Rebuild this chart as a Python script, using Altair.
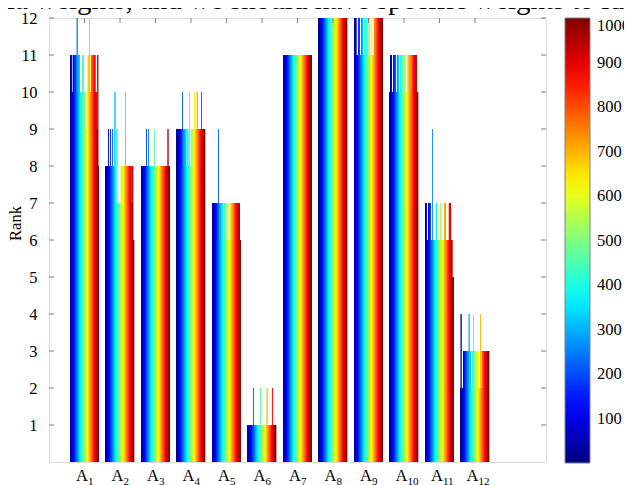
import altair as alt
import numpy as np
import pandas as pd

# ---------------- data ----------------
groups = ["A1", "A2", "A3", "A4", "A5", "A6", "A7", "A8", "A9", "A10", "A11", "A12"]
group_pos = list(range(1, 13))
sub_labels = ["1", "2", "3", "4", "5", "6", "7", "8", "9", "10", "11", "12"]
n_runs = 1000

# (first run, last run exclusive, rank) ; later entries override earlier ones
A1_segments = [(0, 1000, 10), (560, 600, 9), (760, 780, 9), (920, 950, 9),
               (10, 40, 11), (100, 240, 11), (300, 330, 11), (430, 470, 11),
               (620, 700, 11), (740, 800, 11), (830, 880, 11), (960, 990, 11),
               (240, 248, 12), (684, 692, 12),
               (935, 1000, 8), (950, 958, 9), (975, 983, 11)]
A2_segments = [(0, 1000, 7), (0, 300, 8), (540, 900, 8),
               (90, 100, 9), (170, 180, 9), (230, 240, 9), (395, 405, 9),
               (325, 335, 10), (700, 710, 10), (940, 1000, 6), (955, 965, 8)]
A3_segments = [(0, 1000, 8), (180, 188, 9), (250, 258, 9), (462, 470, 9), (942, 950, 9)]
A4_segments = [(0, 1000, 8), (0, 170, 9), (200, 230, 9), (280, 320, 9), (360, 380, 9),
               (430, 470, 9), (520, 560, 9), (600, 1000, 9),
               (197, 205, 10), (455, 463, 10), (631, 639, 10), (716, 724, 10), (867, 875, 10)]
A5_segments = [(0, 1000, 6), (0, 150, 7), (190, 230, 7), (270, 300, 7), (340, 380, 7),
               (430, 470, 7), (520, 560, 7), (600, 640, 7), (680, 720, 7), (760, 960, 7),
               (214, 222, 9)]
A6_segments = [(0, 1000, 1), (207, 215, 2), (454, 462, 2), (679, 687, 2), (866, 874, 2)]
A7_segments = [(0, 1000, 11)]
A8_segments = [(0, 1000, 12)]
A9_segments = [(0, 1000, 11), (0, 70, 12), (150, 200, 12), (250, 300, 12), (350, 380, 12),
               (430, 460, 12), (520, 540, 12), (600, 630, 12), (700, 1000, 12), (780, 800, 11)]
A10_segments = [(0, 1000, 10), (20, 80, 11), (130, 220, 11), (260, 330, 11), (380, 440, 11),
                (500, 560, 11), (620, 740, 11), (780, 940, 11)]
A11_segments = [(0, 1000, 6), (0, 40, 7), (120, 180, 7), (380, 420, 7), (530, 545, 7),
                (680, 720, 7), (840, 900, 7), (250, 257, 9), (950, 1000, 5)]
A12_segments = [(0, 1000, 2), (100, 230, 3), (260, 340, 3), (400, 480, 3), (560, 620, 3),
                (750, 1000, 3), (10, 18, 4), (292, 300, 4), (454, 462, 4), (690, 698, 4)]

all_segments = [A1_segments, A2_segments, A3_segments, A4_segments, A5_segments, A6_segments,
                A7_segments, A8_segments, A9_segments, A10_segments, A11_segments, A12_segments]

x_slots = list(range(1, 14))  # axis runs 0..14 with groups at 1..12
rank_ticks = list(range(1, 13))
colorbar_values = [100, 200, 300, 400, 500, 600, 700, 800, 900, 1000]
jet_domain = [1, 126, 376, 625, 875, 1000]
jet_colors = ["#00007f", "#0000ff", "#00ffff", "#ffff00", "#ff0000", "#7f0000"]
top_text = "ia weights, and we should have specific weights to ide"

# ---------------- tables ----------------
rows = []
for g, pos, segs in zip(groups, group_pos, all_segments):
    ranks = np.zeros(n_runs)
    for s, e, r in segs:
        ranks[s:e] = r
    for i in range(n_runs):
        rows.append((g, pos, i + 1, ranks[i]))
bars_df = pd.DataFrame(rows, columns=["group", "pos", "run", "rank"])
labels_df = pd.DataFrame({"pos": group_pos, "main": ["A"] * 12, "sub": sub_labels})
yticks_df = pd.DataFrame({"rank": rank_ticks})

W, H = 497, 444
FONT = "Liberation Serif"

# label / tick scale: groups centred at 1..12 on a 0..14 axis
xscale = alt.Scale(domain=x_slots, paddingInner=0.2, paddingOuter=0.6, align=0.5)
# bar scale: same step; alignment compensates Vega-Lite's centring of the thin
# (relative-width) bars so that run 1 sits at the left edge of its group
bar_xscale = alt.Scale(domain=x_slots, paddingInner=0.2, paddingOuter=0.6, align=0.1669)

bars = alt.Chart(bars_df).mark_bar(width=alt.RelativeBandSize(band=0.02)).encode(
    x=alt.X("pos:O", scale=bar_xscale, axis=None),
    xOffset=alt.XOffset("run:O", scale=alt.Scale(paddingInner=0, paddingOuter=0)),
    y=alt.Y("rank:Q", scale=alt.Scale(domain=[0, 12], nice=False),
            axis=alt.Axis(values=rank_ticks, grid=False, domain=False, ticks=False,
                          labelPadding=12, labelFont=FONT, labelFontSize=16.5,
                          labelColor="black", title="Rank", titleFont=FONT,
                          titleFontSize=16.5, titleFontWeight="normal", titleColor="black",
                          titleAngle=270, titleX=-34, titleY=205, titleAlign="center",
                          titleBaseline="middle")),
    color=alt.Color("run:Q",
                    scale=alt.Scale(domain=jet_domain, range=jet_colors, interpolate="rgb"),
                    legend=alt.Legend(orient="none", legendX=516, legendY=0,
                                      direction="vertical", title=None, format="d",
                                      gradientLength=H + 1, gradientThickness=25,
                                      values=colorbar_values, labelFont=FONT,
                                      labelFontSize=16.5, labelColor="black",
                                      labelOffset=7, labelOverlap=False,
                                      labelBaseline="middle",
                                      gradientStrokeColor="#808080",
                                      gradientStrokeWidth=1)),
)

left_ticks = alt.Chart(yticks_df).mark_rule(color="#808080").encode(
    y="rank:Q", x=alt.value(0), x2=alt.value(5))
right_ticks = alt.Chart(yticks_df).mark_rule(color="#808080").encode(
    y="rank:Q", x=alt.value(W - 5), x2=alt.value(W))
top_ticks = alt.Chart(labels_df).mark_rule(color="#808080").encode(
    x=alt.X("pos:O", scale=xscale, axis=None), y=alt.value(0), y2=alt.value(5))

lab_main = alt.Chart(labels_df).mark_text(font=FONT, fontSize=16.5, align="center",
                                          baseline="alphabetic", dx=-2.5, color="black").encode(
    x=alt.X("pos:O", scale=xscale, axis=None), y=alt.value(H + 19), text="main:N")
lab_sub = alt.Chart(labels_df).mark_text(font=FONT, fontSize=11, align="left",
                                         baseline="alphabetic", dx=3.5, color="black").encode(
    x=alt.X("pos:O", scale=xscale, axis=None), y=alt.value(H + 22.5), text="sub:N")

head = alt.Chart(pd.DataFrame({"t": [top_text]})).mark_text(
    font=FONT, fontSize=29, align="left", baseline="alphabetic", color="black").encode(
    x=alt.value(-42), y=alt.value(-9), text="t:N")

marks_layer = alt.layer(left_ticks, right_ticks, top_ticks, lab_main, lab_sub, head)

chart = alt.layer(bars, marks_layer).resolve_scale(x="independent").properties(
    width=W, height=H,
    autosize=alt.AutoSizeParams(type="none"),
    padding={"left": 41, "top": 10, "right": 78, "bottom": 23},
).configure_view(stroke="#808080", strokeWidth=1).configure(background="white")

chart.save("out.html", embed_options={"renderer": "svg", "actions": False})
